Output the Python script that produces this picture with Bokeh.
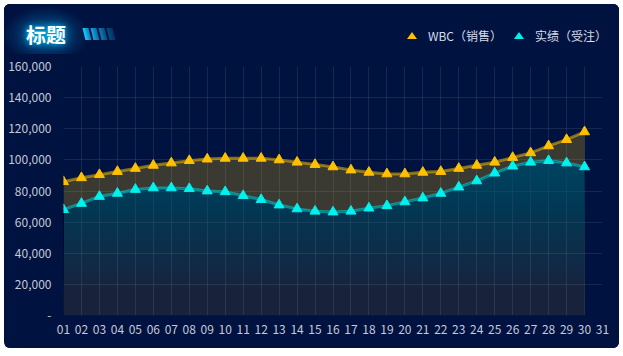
import numpy as np
from bokeh.plotting import figure
from bokeh.models import Range1d, FixedTicker, NumeralTickFormatter, Div
from bokeh.layouts import column
from bokeh.embed import file_html
from bokeh.resources import INLINE

# ---------------- data ----------------
days = ["01", "02", "03", "04", "05", "06", "07", "08", "09", "10",
        "11", "12", "13", "14", "15", "16", "17", "18", "19", "20",
        "21", "22", "23", "24", "25", "26", "27", "28", "29", "30", "31"]
wbc = [86000, 88500, 90500, 92500, 94500, 96500, 98000, 99500, 100500, 101000,
       101000, 101000, 100000, 98500, 97000, 95500, 93500, 92000, 91000, 91000,
       92000, 92500, 94500, 96500, 98500, 101500, 104500, 109000, 113000, 118000]
actual = [68000, 72000, 76500, 78500, 81000, 82000, 82000, 81500, 80000, 79500,
          77000, 74500, 71000, 68500, 67000, 66500, 67000, 69000, 70500, 73000,
          75500, 78500, 82500, 86500, 91500, 96000, 98500, 99500, 98000, 95500]
y_ticks = [0, 20000, 40000, 60000, 80000, 100000, 120000, 140000, 160000]
series_names = ["WBC（销售）", "实绩（受注）"]
title_text = "标题"

FONT = "Noto Sans CJK SC"
BG = "#00123f"
YELLOW = "#ffc000"
CYAN = "#00f2ee"

x_idx = np.arange(1, len(days) + 1)
xs = x_idx[:len(wbc)]
wbc_a = np.array(wbc, dtype=float)
act_a = np.array(actual, dtype=float)

PANEL_W = 615

# ---------------- header (title + decoration + legend) ----------------
bars_html = ""
bar_op = [1.0, 0.8, 0.55, 0.3]
for i, op in enumerate(bar_op):
    bars_html += (f'<div style="position:absolute;left:{80 + 8 * i}px;top:24px;width:6px;height:12px;'
                  f'background:linear-gradient(to right,#19d4ff,#0878c0);opacity:{op};'
                  f'transform:skewX(14deg);"></div>')

def tri(color):
    return (f'<span style="display:inline-block;width:0;height:0;border-left:5px solid transparent;'
            f'border-right:5px solid transparent;border-bottom:7px solid {color};margin-right:11px;'
            f'vertical-align:middle;position:relative;top:-1px;"></span>')

legend_html = (
    f'<div style="position:absolute;right:12px;top:22px;display:flex;align-items:center;'
    f'font-family:\'{FONT}\';font-size:12px;color:#d6dcea;white-space:nowrap;line-height:20px;">'
    f'{tri(YELLOW)}<span style="margin-right:12px;">{series_names[0]}</span>'
    f'{tri(CYAN)}<span>{series_names[1]}</span></div>'
)

header_html = (
    f'<div style="position:relative;width:{PANEL_W}px;height:50px;background:{BG};overflow:hidden;">'
    f'<div style="position:absolute;left:-2px;top:2px;width:88px;height:58px;'
    f'background:radial-gradient(ellipse at center, rgba(20,190,240,0.55) 0%, rgba(10,130,200,0.28) 38%, '
    f'rgba(0,18,63,0) 70%);"></div>'
    f'<div style="position:absolute;left:20px;top:17px;width:44px;text-align:center;'
    f'font-family:\'{FONT}\';font-weight:bold;font-size:20px;line-height:28px;color:#ffffff;'
    f'text-shadow:0 0 6px rgba(0,200,255,0.9),0 0 12px rgba(0,160,230,0.6);">{title_text}</div>'
    f'{bars_html}{legend_html}</div>'
)
hdr = Div(text=header_html, width=PANEL_W, height=50, margin=0,
          styles={"background-color": BG})

# ---------------- main chart ----------------
p = figure(width=PANEL_W, height=294, x_range=Range1d(1, len(days)), y_range=Range1d(0, 160000),
           toolbar_location=None, output_backend="svg",
           min_border_left=59, min_border_right=17, min_border_top=12, min_border_bottom=33,
           outline_line_color=None, background_fill_color=BG, border_fill_color=BG, margin=0)

# WBC area (yellow translucent)
p.varea(x=xs, y1=0, y2=wbc_a, fill_color="#e8b210", fill_alpha=0.10)
p.varea(x=xs, y1=act_a, y2=wbc_a, fill_color="#e8b210", fill_alpha=0.17)
# actual area: teal gradient made from stacked translucent layers
for L in np.arange(15000, 100001, 2500):
    p.varea(x=xs, y1=np.minimum(act_a, L), y2=act_a, fill_color="#0c7ea8", fill_alpha=0.015)

# lines
p.line(xs, wbc_a, line_color="#ffc800", line_alpha=0.5, line_width=3)
p.line(xs, act_a, line_color="#00e6e6", line_alpha=0.5, line_width=3)
# markers
p.scatter(xs, wbc_a, marker="triangle", size=10, fill_color=YELLOW, line_color=YELLOW)
p.scatter(xs, act_a, marker="triangle", size=10, fill_color=CYAN, line_color=CYAN)

# axes
p.xaxis.ticker = FixedTicker(ticks=list(x_idx))
p.xaxis.major_label_overrides = {int(i): d for i, d in zip(x_idx, days)}
p.yaxis.ticker = FixedTicker(ticks=y_ticks)
p.yaxis.formatter = NumeralTickFormatter(format="0,0")
p.yaxis.major_label_overrides = {0: "-"}
for ax in (p.xaxis[0], p.yaxis[0]):
    ax.axis_line_color = None
    ax.major_tick_line_color = None
    ax.minor_tick_line_color = None
    ax.major_label_text_color = "#c4cad8"
    ax.major_label_text_font = FONT
    ax.major_label_text_font_size = "12px"
p.xaxis.major_label_standoff = 3
p.yaxis.major_label_standoff = 6

p.xgrid.ticker = FixedTicker(ticks=list(x_idx))
p.ygrid.ticker = FixedTicker(ticks=y_ticks)
p.grid.grid_line_color = "#ffffff"
p.grid.grid_line_alpha = 0.09

layout = column(hdr, p, spacing=0, margin=4,
                styles={"background-color": BG, "border-radius": "6px", "overflow": "hidden"})
open("out.html", "w").write(file_html(layout, INLINE))
